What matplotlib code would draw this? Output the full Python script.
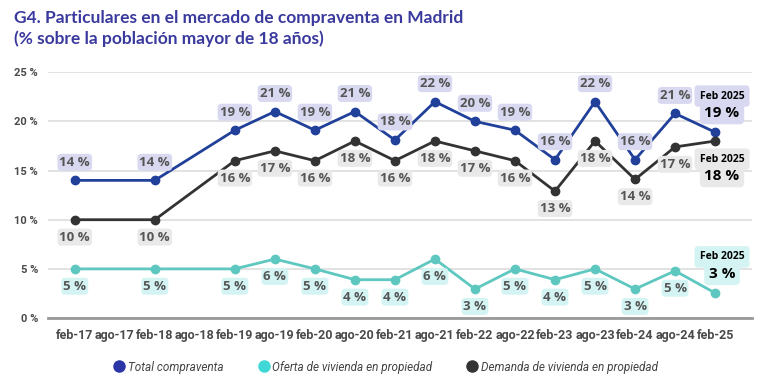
import numpy as np
import matplotlib
matplotlib.use("Agg")
import matplotlib.pyplot as plt
from matplotlib.lines import Line2D

periods = ["feb-17", "ago-17", "feb-18", "ago-18", "feb-19", "ago-19", "feb-20", "ago-20",
           "feb-21", "ago-21", "feb-22", "ago-22", "feb-23", "ago-23", "feb-24", "ago-24", "feb-25"]

# nan = no survey that half-year
total = [14.0, np.nan, 14.0, np.nan, 19.1, 21.0, 19.1, 21.0, 18.1, 22.0, 20.0, 19.1, 16.1, 22.0, 16.1, 20.8, 18.9]
oferta = [5.0, np.nan, 5.0, np.nan, 5.0, 6.0, 5.0, 3.9, 3.9, 6.0, 2.95, 5.0, 3.9, 5.0, 2.95, 4.8, 2.55]
demanda = [10.0, np.nan, 10.0, np.nan, 16.0, 17.0, 16.0, 18.0, 16.0, 18.0, 17.0, 16.0, 12.9, 18.0, 14.1, 17.4, 18.0]

total_lbl = [14, None, 14, None, 19, 21, 19, 21, 18, 22, 20, 19, 16, 22, 16, 21, 19]
oferta_lbl = [5, None, 5, None, 5, 6, 5, 4, 4, 6, 3, 5, 4, 5, 3, 5, 3]
demanda_lbl = [10, None, 10, None, 16, 17, 16, 18, 16, 18, 17, 16, 13, 18, 14, 17, 18]

series_names = ["Total compraventa", "Oferta de vivienda en propiedad", "Demanda de vivienda en propiedad"]

C_TOTAL = "#21409a"
C_OFERTA = "#5ec8c0"
C_DEMANDA = "#333333"
BG_TOTAL = "#d8d9f1"
BG_OFERTA = "#d3f4f3"
BG_DEMANDA = "#e9e9e9"
TXT = "#555555"
LBL_FONT = ['Open Sans', 'DejaVu Sans']

plt.rcParams['font.family'] = ['Roboto', 'DejaVu Sans']

fig = plt.figure(figsize=(7.7, 3.86), dpi=100)
ax = fig.add_axes([0.062, 0.176, 0.915, 0.637])

x = np.arange(len(periods))


def draw(vals, labels, color, bg, dy, last_dy, last_dx=5):
    vals = np.array(vals)
    ok = ~np.isnan(vals)
    ax.plot(x[ok], vals[ok], color=color, lw=2, marker='o', ms=6, zorder=3, clip_on=False)
    for i in range(len(vals) - 1):
        if labels[i] is None:
            continue
        ax.annotate(f"{labels[i]} %", (x[i], vals[i]), xytext=(0, dy), textcoords='offset points',
                    ha='center', va='center', fontsize=9.5, fontweight='bold', color=TXT, family=LBL_FONT,
                    bbox=dict(boxstyle='round,pad=0.15,rounding_size=0.3', fc=bg, ec='none'),
                    zorder=4, annotation_clip=False)
    # last value: small header + big value, both on one light box
    ax.annotate("Feb 2025", (x[-1], vals[-1]), xytext=(last_dx, last_dy + 6), textcoords='offset points',
                ha='center', va='center', fontsize=7.5, fontweight='bold', color='black', family=LBL_FONT,
                bbox=dict(boxstyle='round,pad=0.5,rounding_size=0.3', fc=bg, ec='none'),
                zorder=4, annotation_clip=False)
    ax.annotate(f"{labels[-1]} %", (x[-1], vals[-1]), xytext=(last_dx, last_dy - 6), textcoords='offset points',
                ha='center', va='center', fontsize=11, fontweight='bold', color='black', family=LBL_FONT,
                bbox=dict(boxstyle='round,pad=0.3,rounding_size=0.3', fc=bg, ec='none'),
                zorder=5, annotation_clip=False)


draw(total, total_lbl, C_TOTAL, BG_TOTAL, 13, 20)
draw(demanda, demanda_lbl, C_DEMANDA, BG_DEMANDA, -12.5, -19)
draw(oferta, oferta_lbl, C_OFERTA, BG_OFERTA, -12.5, 20)

ax.set_xlim(-0.675, 16.93)
ax.set_ylim(0, 25)
ax.set_yticks([0, 5, 10, 15, 20, 25])
ax.set_yticklabels([f"{v} %" for v in [0, 5, 10, 15, 20, 25]])
ax.set_xticks(x)
ax.set_xticklabels(periods)
ax.tick_params(axis='both', length=0, labelsize=8, labelcolor='#4a4a4a')
ax.tick_params(axis='x', pad=8, labelsize=9)
ax.tick_params(axis='y', pad=7)
for lab in ax.get_xticklabels() + ax.get_yticklabels():
    lab.set_fontweight('bold')
ax.yaxis.grid(True, color='#dddddd', lw=1.2)
ax.set_axisbelow(True)
for s in ['top', 'right', 'left']:
    ax.spines[s].set_visible(False)
ax.spines['bottom'].set_color('#999999')
ax.spines['bottom'].set_linewidth(2)

fig.text(0.018, 0.975, "G4. Particulares en el mercado de compraventa en Madrid\n(% sobre la población mayor de 18 años)",
         ha='left', va='top', fontsize=12.5, fontweight='bold', color='#3a3a9e', family=['Lato', 'DejaVu Sans'],
         linespacing=1.35)

handles = [Line2D([], [], ls='none', marker='o', ms=8, color=c) for c in ['#2b35a8', '#3fd8d6', '#333333']]
leg = fig.legend(handles, series_names, loc='center', bbox_to_anchor=(0.5, 0.047), ncol=3, frameon=False,
                 handletextpad=0.1, columnspacing=2.4, handlelength=1.0)
for t in leg.get_texts():
    t.set_fontstyle('italic')
    t.set_fontsize(8.5)
    t.set_color('#444444')

fig.savefig("out.png", dpi=100)
